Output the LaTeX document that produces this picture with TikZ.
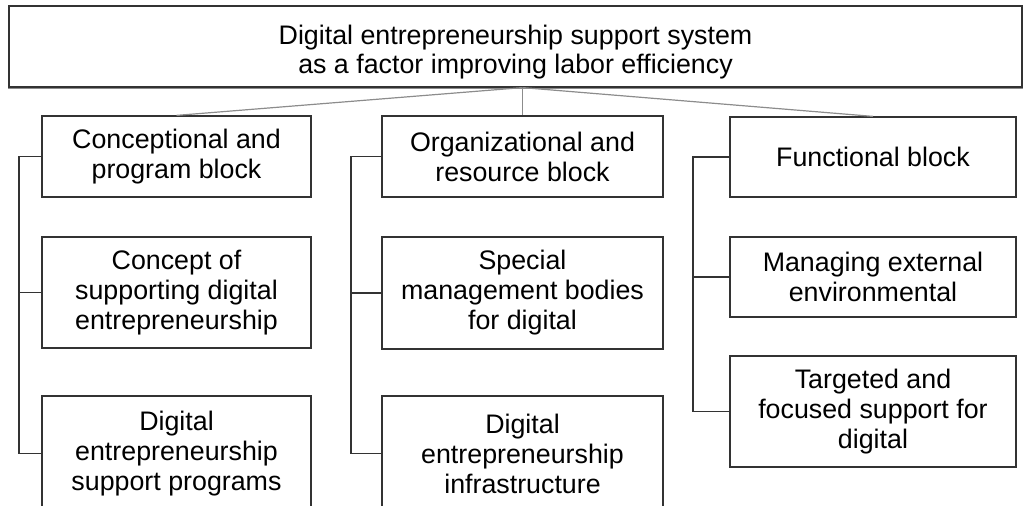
\documentclass[tikz,border=0pt]{standalone}
\usepackage{fontspec}
\setmainfont{Liberation Sans}
\begin{document}
\begin{tikzpicture}[x=0.5pt,y=-0.5pt,
  box/.style={draw=black!80, line width=0.6pt, align=center, inner sep=0pt,
              font=\fontsize{13.4}{15}\selectfont},
  colL/.style={box, minimum width=134.5pt},
  colM/.style={box, minimum width=140.5pt},
  colR/.style={box, minimum width=143pt},
  link/.style={draw=black!45, line width=0.6pt},
  bracket/.style={draw=black!80, line width=0.6pt}]
\useasboundingbox (0,0) rectangle (1024,506);
\clip (0,0) rectangle (1024,506);

% header
\node[box, minimum width=506.5pt, minimum height=40.5pt,
      font=\fontsize{13.4}{14.5}\selectfont] (top) at (515.5,46.5)
  {\rule{0pt}{15pt}Digital entrepreneurship support system\\as a factor improving labor efficiency};
\draw[black!45, line width=0.6pt]
  ([yshift=-0.6pt]top.south west) -- ([yshift=-0.6pt]top.south east);

% left column
\node[colL, minimum height=40.5pt] (L1) at (176.5,156.5) {Conceptional and\\program block};
\node[colL, minimum height=55.5pt] (L2) at (176.5,292.5) {Concept of\\supporting digital\\entrepreneurship};
\node[colL, minimum height=57.5pt] (L3) at (176.5,453.5) {Digital\\entrepreneurship\\support programs};

% middle column
\node[colM, minimum height=40.5pt] (M1) at (522.5,156.5) {Organizational and\\resource block};
\node[colM, minimum height=56pt] (M2) at (522.5,293) {Special\\management bodies\\for digital};
\node[colM, minimum height=57.5pt] (M3) at (522.5,453.5) {Digital\\entrepreneurship\\infrastructure};

% right column
\node[colR, minimum height=40pt] (R1) at (873,157) {Functional block};
\node[colR, minimum height=40pt] (R2) at (873,277) {Managing external\\environmental};
\node[colR, minimum height=55.5pt] (R3) at (873,411.5) {Targeted and\\focused support for\\digital};

% links from the header to the column heads
\coordinate (hub) at (top.south -| M1.north);
\draw[link] (hub) -- (L1.north);
\draw[link] (hub) -- (M1.north);
\draw[link] (hub) -- (R1.north);

% brackets joining each column
\coordinate (lbar) at (19,0);
\coordinate (mbar) at (351,0);
\coordinate (rbar) at (693,0);
\draw[bracket] (L1.west) -| (lbar |- L3.west) -- (L3.west);
\draw[bracket] (L2.west) -- (lbar |- L2.west);
\draw[bracket] (M1.west) -| (mbar |- M3.west) -- (M3.west);
\draw[bracket] (M2.west) -- (mbar |- M2.west);
\draw[bracket] (R1.west) -| (rbar |- R3.west) -- (R3.west);
\draw[bracket] (R2.west) -- (rbar |- R2.west);
\end{tikzpicture}
\end{document}
